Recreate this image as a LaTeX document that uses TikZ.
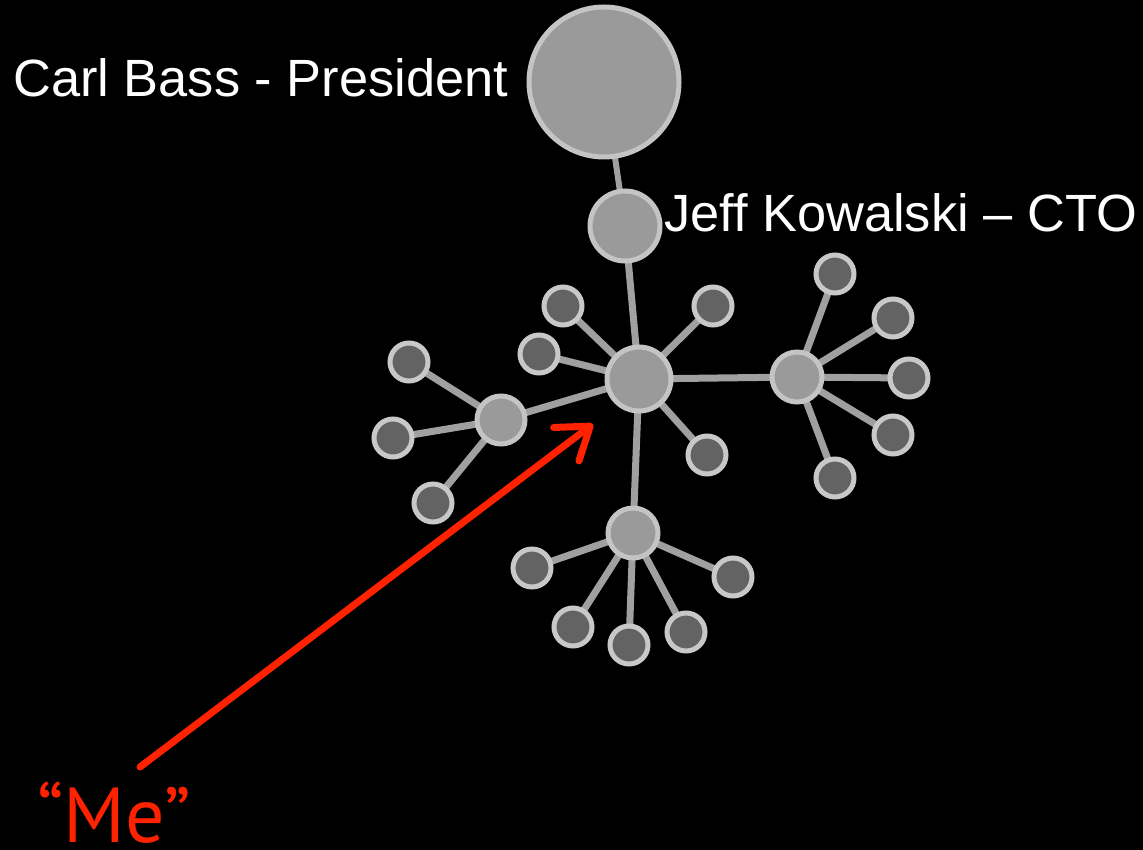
\documentclass[tikz,border=0pt]{standalone}
\usepackage{fontspec}
\setmainfont[Ligatures=NoCommon]{Liberation Sans}
\newfontfamily\mefont{PT Sans}
\usetikzlibrary{arrows.meta,backgrounds}
\definecolor{hubfill}{HTML}{9A9A9A}
\definecolor{hubline}{HTML}{C4C4C4}
\definecolor{leaffill}{HTML}{636363}
\definecolor{leafline}{HTML}{C8C8C8}
\definecolor{edgecol}{HTML}{A0A0A0}
\definecolor{redarrow}{HTML}{FF2200}
\begin{document}
\begin{tikzpicture}[x=1pt,y=-1pt,
  hub/.style={circle,fill=hubfill,draw=hubline,line width=5pt,inner sep=0pt},
  leaf/.style={circle,fill=leaffill,draw=leafline,line width=5pt,inner sep=0pt,minimum size=38pt},
  edge/.style={draw=edgecol,line width=7pt},
  lbl/.style={text=white,inner sep=0pt,font=\fontsize{52.4}{60}\selectfont}]
\useasboundingbox (0,0) rectangle (1143,850);
% nodes
\node[hub,minimum size=150pt] (carl) at (604,82) {};
\node[hub,minimum size=70pt] (jeff) at (625,226) {};
\node[hub,minimum size=64pt] (me) at (639,379) {};
\node[hub,minimum size=48pt] (lh) at (501,420) {};
\node[hub,minimum size=50pt] (rh) at (797,377) {};
\node[hub,minimum size=50pt] (bh) at (633,533) {};
% leaves
\node[leaf] (l1) at (409,362) {};
\node[leaf] (l2) at (393,438) {};
\node[leaf] (l3) at (433,503) {};
\node[leaf] (m1) at (563,306) {};
\node[leaf] (m2) at (539,354) {};
\node[leaf] (m3) at (713,306) {};
\node[leaf] (m4) at (707,455) {};
\node[leaf] (r1) at (835,274) {};
\node[leaf] (r2) at (893,318) {};
\node[leaf] (r3) at (909,378) {};
\node[leaf] (r4) at (893,435) {};
\node[leaf] (r5) at (835,478) {};
\node[leaf] (b1) at (532,568) {};
\node[leaf] (b2) at (573,627) {};
\node[leaf] (b3) at (629,645) {};
\node[leaf] (b4) at (686,632) {};
\node[leaf] (b5) at (733,577) {};
% background and edges
\begin{scope}[on background layer]
\fill[black] (0,0) rectangle (1143,850);
\path[edge,line width=6pt] (carl.center) -- (jeff.center);
\foreach \a/\b in {jeff/me, me/lh, me/rh, me/bh, lh/l1, lh/l2, lh/l3,
  me/m1, me/m2, me/m3, me/m4, rh/r1, rh/r2, rh/r3, rh/r4, rh/r5,
  bh/b1, bh/b2, bh/b3, bh/b4, bh/b5}
  \path[edge] (\a.center) -- (\b.center);
\end{scope}
% labels
\node[lbl,anchor=base west] (tcarl) at (13,97) {Carl Bass - President};
\node[lbl,anchor=base west] (tjeff) at (664,232) {Jeff Kowalski – CTO};
\node[text=redarrow,inner sep=0pt,anchor=base west,font=\mefont\fontsize{78}{84}\selectfont] (tme) at (37,842) {“Me”};
% arrow
\coordinate (tail) at (140,767);
\coordinate (tip) at (593,424);
\draw[redarrow,line width=7pt,line cap=round,-{Straight Barb[length=30pt,width=42pt,round]}] (tail) -- (tip);
\end{tikzpicture}
\end{document}
